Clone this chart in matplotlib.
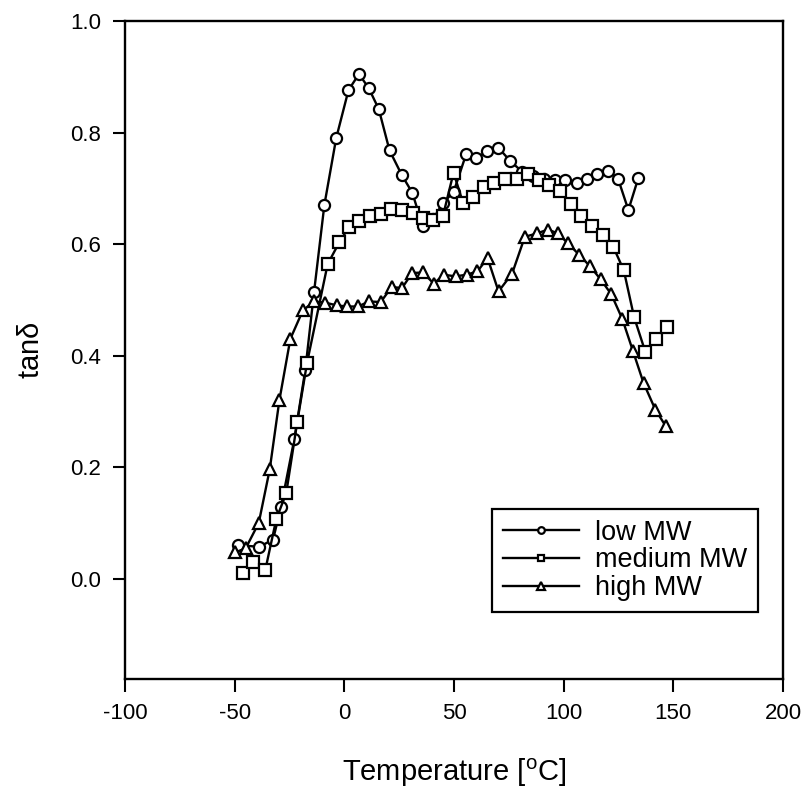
"""
tan delta vs temperature for three molecular weights (DMA curves).
"""
import matplotlib
matplotlib.use("Agg")
import matplotlib.pyplot as plt
from matplotlib.ticker import FormatStrFormatter

plt.rcParams["font.family"] = ["Liberation Sans", "DejaVu Sans"]
plt.rcParams["axes.unicode_minus"] = False

# ── data ─────────────────────────────────────────────────────────────────────
low_T = [-48.3, -38.8, -32.5, -28.9, -22.8, -17.8, -13.8, -9.1, -3.7, 1.9,
         6.7, 11.2, 15.7, 20.6, 26.3, 31.0, 35.7, 40.5, 45.0, 49.8, 55.6,
         60.2, 65.0, 70.2, 75.6, 81.0, 86.0, 91.0, 96.0, 100.7, 106.0,
         110.7, 115.3, 120.3, 124.8, 129.5, 134.0]
low_tan = [0.060, 0.057, 0.070, 0.128, 0.250, 0.374, 0.514, 0.670, 0.790, 0.876,
           0.905, 0.879, 0.842, 0.768, 0.723, 0.692, 0.632, 0.645, 0.674, 0.693, 0.762,
           0.754, 0.766, 0.773, 0.749, 0.730, 0.722, 0.716, 0.714, 0.714, 0.710,
           0.716, 0.726, 0.731, 0.717, 0.661, 0.718]

med_T = [-46.0, -41.5, -36.0, -31.0, -26.5, -21.5, -17.0, -7.6, -2.3, 2.2,
         6.8, 11.7, 16.7, 21.5, 26.3, 31.2, 35.8, 40.3, 45.0, 49.8, 54.2,
         58.8, 63.5, 68.3, 73.3, 78.6, 83.6, 88.8, 93.4, 98.3, 103.2, 108.0,
         113.0, 118.0, 122.6, 127.4, 132.1, 137.2, 142.0, 147.0]
med_tan = [0.010, 0.030, 0.016, 0.107, 0.153, 0.280, 0.387, 0.564, 0.603, 0.631,
           0.642, 0.651, 0.653, 0.663, 0.661, 0.655, 0.647, 0.644, 0.651, 0.728, 0.673,
           0.684, 0.703, 0.709, 0.717, 0.717, 0.725, 0.714, 0.706, 0.695, 0.671, 0.651,
           0.633, 0.616, 0.595, 0.553, 0.469, 0.407, 0.430, 0.452]

high_T = [-49.7, -45.0, -39.0, -34.0, -29.6, -24.6, -18.9, -13.8, -8.8, -3.4,
          1.2, 6.2, 11.3, 16.6, 21.6, 26.3, 30.9, 35.8, 40.8, 45.3, 50.7,
          55.7, 60.7, 65.3, 70.3, 76.5, 82.3, 87.8, 92.8, 97.4, 102.0, 107.0,
          111.8, 116.8, 121.7, 126.7, 131.6, 136.4, 141.8, 146.6]
high_tan = [0.047, 0.054, 0.100, 0.196, 0.320, 0.430, 0.481, 0.497, 0.495, 0.490,
            0.488, 0.488, 0.497, 0.496, 0.523, 0.521, 0.548, 0.549, 0.529, 0.545, 0.542,
            0.545, 0.551, 0.575, 0.515, 0.547, 0.613, 0.619, 0.626, 0.619, 0.601, 0.581,
            0.561, 0.537, 0.510, 0.466, 0.408, 0.351, 0.303, 0.273]

series = [
    ("low MW", low_T, low_tan, "o"),
    ("medium MW", med_T, med_tan, "s"),
    ("high MW", high_T, high_tan, "^"),
]

fig = plt.figure(figsize=(8.11, 7.92), dpi=100)
ax = fig.add_axes([0.1541, 0.1427, 0.8114, 0.8308])

for label, xs, ys, mk in series:
    ax.plot(xs, ys, color="black", lw=1.7, marker=mk, ms=8.0 if mk != "^" else 8.5,
            mfc="white", mec="black", mew=1.6, label=label)

ax.set_xlim(-100, 200)
ax.set_ylim(-0.18, 1.0)
ax.set_xticks([-100, -50, 0, 50, 100, 150, 200])
ax.set_yticks([0.0, 0.2, 0.4, 0.6, 0.8, 1.0])
ax.yaxis.set_major_formatter(FormatStrFormatter("%.1f"))
ax.tick_params(direction="out", length=9, width=1.5, labelsize=16, pad=8)
for s in ax.spines.values():
    s.set_linewidth(1.7)

ax.set_xlabel(r"Temperature [$\mathregular{^oC}$]", fontsize=21, labelpad=24)
ax.set_ylabel(r"tan$\mathregular{\delta}$", fontsize=21, labelpad=18)

leg = ax.legend(loc="lower right", bbox_to_anchor=(0.962, 0.102), borderaxespad=0,
                fontsize=19.5, handlelength=2.8, markerscale=0.6, frameon=True,
                fancybox=False, edgecolor="black", framealpha=1, borderpad=0.4,
                labelspacing=0.06, handletextpad=0.6)
leg.get_frame().set_linewidth(1.6)

fig.savefig("out.png", dpi=100, facecolor="white")
